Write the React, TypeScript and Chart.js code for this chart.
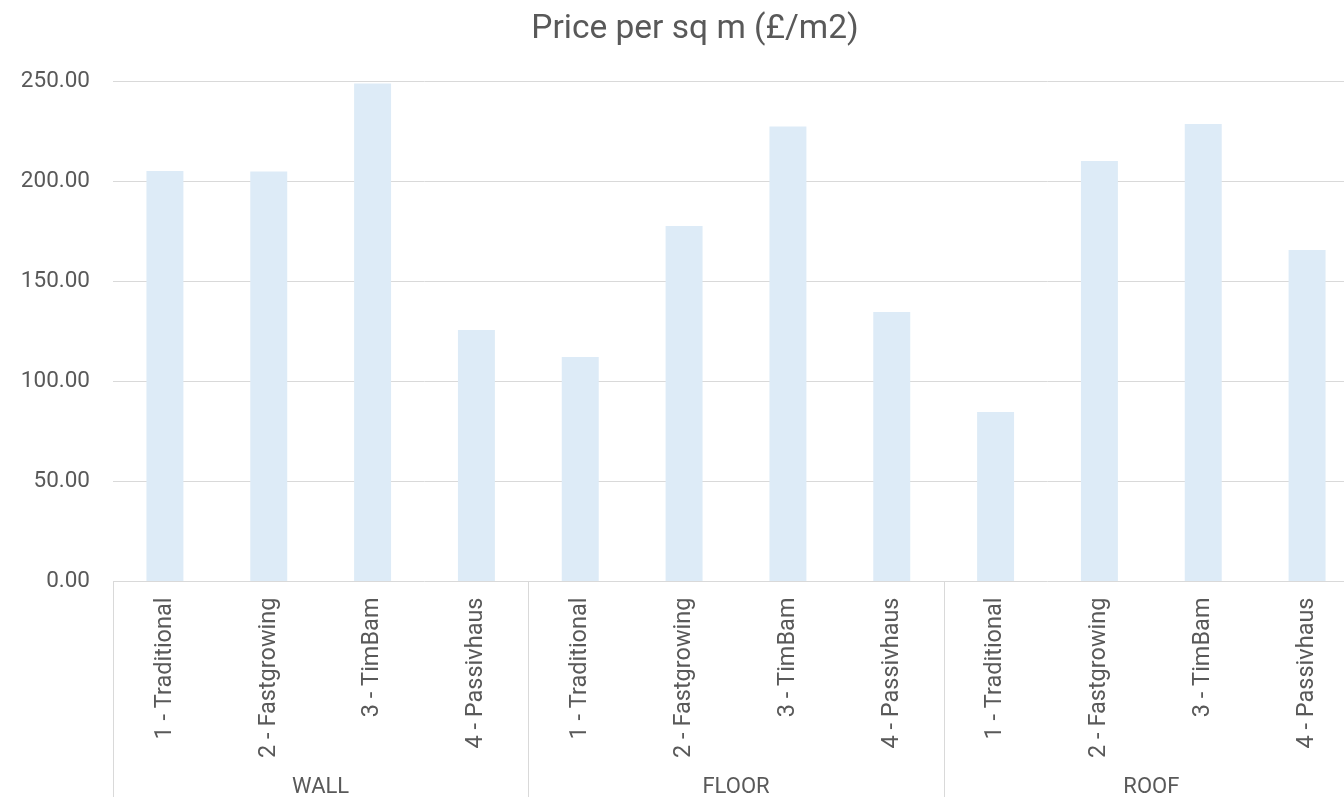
import { useEffect, useRef } from "react";
import { Chart, registerables } from "chart.js";

Chart.register(...registerables);

// Building elements (outer axis level) and construction systems (inner level)
const groups = ["WALL", "FLOOR", "ROOF"];
const systems = ["1 - Traditional", "2 - Fastgrowing", "3 - TimBam", "4 - Passivhaus"];

// Price per square metre (£/m2) for each system within each element
const wallPrices = [205.3, 205.0, 249.0, 125.8];
const floorPrices = [112.2, 177.8, 227.5, 134.8];
const roofPrices = [84.8, 210.2, 228.8, 165.8];

const yTicks = [0, 50, 100, 150, 200, 250];
const chartTitle = "Price per sq m (£/m2)";

const TEXT = "#595959";
const GRID = "#D9D9D9";
const BAR = "#DDEBF7";
const FONT = "Roboto, 'Liberation Sans', sans-serif";

const labels = groups.flatMap(() => systems);
const values = [...wallPrices, ...floorPrices, ...roofPrices];

// Draws the title plus the two-level category axis (rotated system names, element names, separators)
const multiLevelAxis = {
  id: "multiLevelAxis",
  afterDraw(chart: any) {
    const ctx: CanvasRenderingContext2D = chart.ctx;
    const xs = chart.scales.x;
    const area = chart.chartArea;
    const bottom = chart.height;
    const step = xs.getPixelForValue(1) - xs.getPixelForValue(0);
    const per = systems.length;

    ctx.save();

    // title
    ctx.fillStyle = TEXT;
    ctx.font = `33.5px ${FONT}`;
    ctx.textAlign = "center";
    ctx.textBaseline = "alphabetic";
    ctx.fillText(chartTitle, 695, 38);

    // group separators
    ctx.strokeStyle = GRID;
    ctx.lineWidth = 1;
    for (let g = 0; g <= groups.length; g++) {
      const px = Math.round(xs.getPixelForValue(g * per) - step / 2) + 0.5;
      ctx.beginPath();
      ctx.moveTo(px, area.bottom);
      ctx.lineTo(px, bottom);
      ctx.stroke();
    }

    // rotated system labels
    ctx.font = `23.5px ${FONT}`;
    labels.forEach((lab, i) => {
      const px = xs.getPixelForValue(i);
      ctx.save();
      ctx.translate(px, area.bottom + 16);
      ctx.rotate(-Math.PI / 2);
      ctx.textAlign = "right";
      ctx.textBaseline = "middle";
      ctx.fillText(lab, 0, 0);
      ctx.restore();
    });

    // element labels
    ctx.font = `22px ${FONT}`;
    ctx.textAlign = "center";
    ctx.textBaseline = "alphabetic";
    groups.forEach((g, gi) => {
      const a = xs.getPixelForValue(gi * per) - step / 2;
      const b = xs.getPixelForValue(gi * per + per - 1) + step / 2;
      ctx.fillText(g, (a + b) / 2, 793);
    });

    ctx.restore();
  },
};

export default function App() {
  const ref = useRef<HTMLCanvasElement>(null);

  useEffect(() => {
    const chart = new Chart(ref.current as HTMLCanvasElement, {
      type: "bar",
      data: {
        labels,
        datasets: [
          {
            data: values,
            backgroundColor: BAR,
            borderWidth: 0,
            categoryPercentage: 1,
            barPercentage: 0.356,
          },
        ],
      },
      options: {
        responsive: false,
        animation: false,
        layout: { padding: { top: 81.5, right: 29, left: 0, bottom: 0 } },
        plugins: {
          legend: { display: false },
          title: { display: false },
          tooltip: { enabled: false },
        },
        scales: {
          x: {
            type: "category",
            grid: { display: false },
            border: { display: false },
            ticks: { display: false },
            afterFit: (s: any) => {
              s.height = 215.5;
            },
          },
          y: {
            min: yTicks[0],
            max: yTicks[yTicks.length - 1],
            afterBuildTicks: (s: any) => {
              s.ticks = yTicks.map((v) => ({ value: v }));
            },
            grid: { color: GRID, lineWidth: 1, drawTicks: false },
            border: { display: false },
            ticks: {
              padding: 23,
              color: TEXT,
              font: { family: FONT, size: 22.5 },
              callback: (v: any) => Number(v).toFixed(2),
            },
            afterFit: (s: any) => {
              s.width = 113;
            },
          },
        },
      },
      plugins: [multiLevelAxis],
    });
    return () => chart.destroy();
  }, []);

  return (
    <div
      style={{
        position: "fixed",
        left: 0,
        top: 0,
        width: "100vw",
        height: "100vh",
        overflow: "hidden",
        background: "#fff",
      }}
    >
      <canvas
        ref={ref}
        width={1388}
        height={797}
        style={{ display: "block", width: 1388, height: 797 }}
      />
    </div>
  );
}
